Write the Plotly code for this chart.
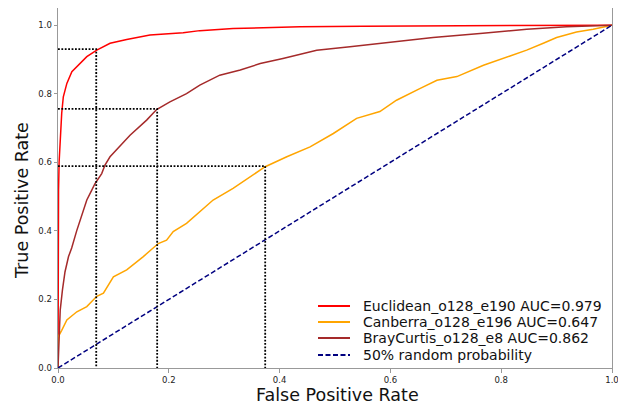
import plotly.graph_objects as go

# ---- data ----
euc_fpr = [0, 0, 0.001, 0.002, 0.0036, 0.0067, 0.0096, 0.016, 0.025, 0.034, 0.052, 0.07, 0.094,
           0.124, 0.166, 0.226, 0.256, 0.316, 0.437, 0.55, 0.653, 0.8, 1.0]
euc_tpr = [0, 0.40, 0.52, 0.60, 0.665, 0.743, 0.791, 0.83, 0.864, 0.879, 0.908, 0.927, 0.947,
           0.958, 0.971, 0.978, 0.984, 0.99, 0.995, 0.997, 0.998, 0.999, 1.0]

can_fpr = [0, 0, 0.0067, 0.016, 0.034, 0.052, 0.07, 0.082, 0.1, 0.124, 0.154, 0.181, 0.196, 0.208,
           0.232, 0.256, 0.28, 0.316, 0.353, 0.374, 0.413, 0.455, 0.497, 0.539, 0.581, 0.611, 0.653,
           0.684, 0.72, 0.768, 0.816, 0.846, 0.876, 0.9, 0.936, 0.966, 1.0]
can_tpr = [0, 0.09, 0.11, 0.14, 0.164, 0.179, 0.209, 0.218, 0.266, 0.286, 0.325, 0.363, 0.373, 0.398,
           0.422, 0.456, 0.49, 0.524, 0.563, 0.587, 0.616, 0.645, 0.684, 0.728, 0.748, 0.781, 0.815,
           0.839, 0.85, 0.883, 0.91, 0.927, 0.947, 0.964, 0.98, 0.988, 1.0]

bc_fpr = [0, 0.001, 0.002, 0.004, 0.008, 0.0126, 0.019, 0.0247, 0.0337, 0.0427, 0.052, 0.061,
          0.0668, 0.0789, 0.0848, 0.0939, 0.106, 0.13, 0.16, 0.178, 0.202, 0.232, 0.256, 0.292,
          0.329, 0.365, 0.406, 0.467, 0.527, 0.587, 0.617, 0.677, 0.767, 0.846, 0.918, 1.0]
bc_tpr = [0, 0.06, 0.12, 0.169, 0.227, 0.28, 0.325, 0.35, 0.40, 0.445, 0.49, 0.519,
          0.538, 0.567, 0.592, 0.616, 0.638, 0.679, 0.723, 0.754, 0.776, 0.80, 0.825, 0.854,
          0.869, 0.888, 0.903, 0.927, 0.937, 0.948, 0.952, 0.964, 0.976, 0.988, 0.995, 1.0]

rand_fpr = [0, 1]
rand_tpr = [0, 1]

series_names = ["Euclidean_o128_e190 AUC=0.979", "Canberra_o128_e196 AUC=0.647",
                "BrayCurtis_o128_e8 AUC=0.862", "50% random probability"]
series_colors = ["#ff0000", "#ffa500", "#a52a2a", "#000080"]
series_dash = ["solid", "solid", "solid", "5px,2.5px"]

# operating points (fpr, tpr) marked with dotted guide lines
op_fpr = [0.069, 0.179, 0.374]
op_tpr = [0.930, 0.756, 0.589]

xticks = [0.0, 0.2, 0.4, 0.6, 0.8, 1.0]
yticks = [0.0, 0.2, 0.4, 0.6, 0.8, 1.0]

# ---- figure ----
# The page body has an 8px default margin, so the figure is sized to fill the
# remaining window and the plot area lands at page pixels x 58..612, y 8..368.
PAGE_OFF = 8
W, H = 626 - PAGE_OFF, 407 - PAGE_OFF
PX0, PX1, PY0, PY1 = 58, 612, 8, 368          # plot area in page pixels
L, R = PX0 - PAGE_OFF, W - (PX1 - PAGE_OFF)
T, B = PY0 - PAGE_OFF, H - (PY1 - PAGE_OFF)


def px_x(p):
    return (p - PX0) / (PX1 - PX0)


def px_y(p):
    return (PY1 - p) / (PY1 - PY0)


fig = go.Figure()
for fx_, ty_, nm, col, dsh in zip([euc_fpr, can_fpr, bc_fpr, rand_fpr],
                                  [euc_tpr, can_tpr, bc_tpr, rand_tpr],
                                  series_names, series_colors, series_dash):
    fig.add_trace(go.Scatter(x=fx_, y=ty_, mode="lines", name=nm, showlegend=False,
                             line=dict(color=col, width=1.5, dash=dsh)))

for fx, ty in zip(op_fpr, op_tpr):
    fig.add_trace(go.Scatter(x=[0, fx, fx], y=[ty, ty, 0], mode="lines", showlegend=False,
                             hoverinfo="skip",
                             line=dict(color="black", width=1.8, dash="1.8px,1.6px")))

# legend drawn in the lower-right corner (matplotlib-style compact spacing)
leg_rows = [306, 322, 338, 355]
annotations = []
shapes = []
for nm, col, dsh, ry in zip(series_names, series_colors, series_dash, leg_rows):
    shapes.append(dict(type="line", xref="paper", yref="paper",
                       x0=px_x(318), x1=px_x(350), y0=px_y(ry), y1=px_y(ry),
                       line=dict(color=col, width=2, dash=dsh if dsh != "solid" else None)))
    annotations.append(dict(text=nm, xref="paper", yref="paper", x=px_x(361), y=px_y(ry),
                            xanchor="left", yanchor="middle", showarrow=False,
                            font=dict(size=14, color="#111111")))

annotations.append(dict(text="False Positive Rate", xref="paper", yref="paper",
                        x=px_x(337), y=px_y(395), xanchor="center", yanchor="middle",
                        showarrow=False, font=dict(size=17.5, color="#111111")))
annotations.append(dict(text="True Positive Rate", xref="paper", yref="paper",
                        x=px_x(22), y=px_y(201), xanchor="center", yanchor="middle",
                        textangle=-90, showarrow=False, font=dict(size=17.5, color="#111111")))

axis_common = dict(showline=True, linecolor="#999999", linewidth=1, mirror=True,
                   showgrid=False, zeroline=False, ticks="outside", ticklen=3.5,
                   tickcolor="#999999", tickfont=dict(size=8.5, color="#222222"),
                   automargin=False)

fig.update_layout(
    width=W, height=H,
    margin=dict(l=L, r=R, t=T, b=B, autoexpand=False),
    paper_bgcolor="white", plot_bgcolor="white",
    font=dict(family="DejaVu Sans", color="black"),
    xaxis=dict(range=[0, 1], tickvals=xticks, ticktext=[f"{v:.1f}" for v in xticks],
               **axis_common),
    yaxis=dict(range=[0, 1.05], tickvals=yticks, ticktext=[f"{v:.1f}" for v in yticks],
               **axis_common),
    showlegend=False,
    annotations=annotations,
    shapes=shapes,
)

fig.write_html("out.html")
